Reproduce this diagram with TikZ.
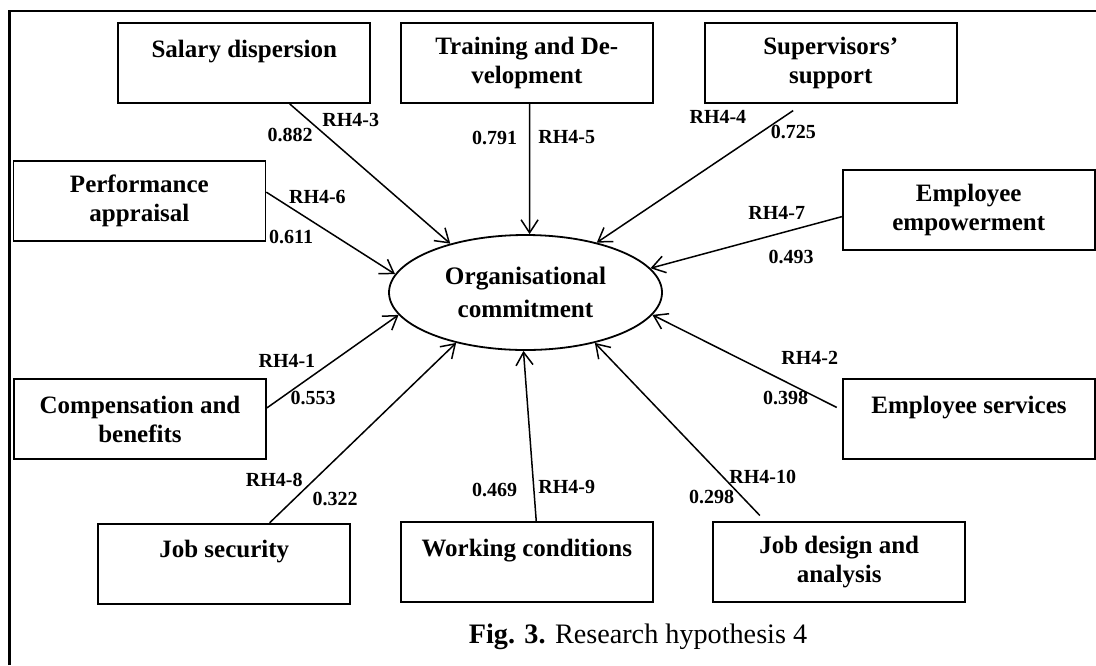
\documentclass[tikz,border=0pt]{standalone}
\usepackage{fontspec}
\setmainfont{Liberation Serif}
\usetikzlibrary{arrows.meta,shapes.geometric}
\tikzstyle{factorBlock}=[draw,line width=0.9pt,minimum width=126pt,minimum height=40pt,inner sep=0pt,align=center,font=\bfseries\fontsize{12.5}{14.5}\selectfont]
\tikzstyle{commitNode}=[draw,ellipse,line width=0.9pt,minimum width=136.5pt,minimum height=57.5pt,inner sep=0pt,align=center,font=\bfseries\fontsize{12.6}{16.5}\selectfont]
\tikzstyle{weightNode}=[inner sep=0pt,font=\bfseries\fontsize{10}{12}\selectfont]
\tikzstyle{hypTransition}=[-{Straight Barb[length=6.5pt,width=8.5pt]},line width=0.75pt]
\tikzstyle{frameLine}=[line width=1.3pt]

\begin{document}
\begin{tikzpicture}[x=5pt,y=-5pt]
    \useasboundingbox (0,0) rectangle (109.6,66.5);
    % Frame
    \draw[frameLine] (0.95,66.5) -- (0.95,1.1) -- (109.6,1.1);

    % Central construct
    \node[commitNode] (commit) at (52.55,29.25) {Organisational\\commitment};

    % Top row
    \node[factorBlock] (salary) at (24.43,6.3) {Salary dispersion\\\mbox{}};
    \node[factorBlock] (training) at (52.68,6.3) {Training and De-\\velopment};
    \node[factorBlock] (supervisors) at (83.07,6.3) {Supervisors’\\support};
    \draw[hypTransition] (salary.-42) -- (commit.147);
    \draw[hypTransition] (training.-86) -- (commit.86);
    \draw[hypTransition, shorten <=6pt] (supervisors.-124) -- (commit.35);
    \node[weightNode] (w3) at (29.02,13.5) {0.882};
    \node[weightNode] (rh3) at (35.08,12.0) {RH4-3};
    \node[weightNode] (w5) at (49.46,13.8) {0.791};
    \node[weightNode] (rh5) at (56.68,13.7) {RH4-5};
    \node[weightNode] (rh4) at (71.79,11.7) {RH4-4};
    \node[weightNode] (w4) at (79.33,13.2) {0.725};

    % Middle rows
    \node[factorBlock] (performance) at (13.94,20.1) {Performance\\appraisal};
    \node[factorBlock] (empowerment) at (96.87,21.0) {Employee\\empowerment};
    \node[factorBlock] (compensation) at (14.0,41.9) {Compensation and\\benefits};
    \node[factorBlock] (services) at (96.9,41.9) {Employee services\\\mbox{}};
    \draw[hypTransition] (performance.4) -- (commit.172);
    \draw[hypTransition] (empowerment.183) -- (commit.11);
    \draw[hypTransition] (compensation.5) -- (commit.190);
    \draw[hypTransition, shorten <=3pt] (services.176) -- (commit.350);
    \node[weightNode] (rh6) at (31.74,19.7) {RH4-6};
    \node[weightNode] (w6) at (29.11,23.7) {0.611};
    \node[weightNode] (rh7) at (77.67,21.3) {RH4-7};
    \node[weightNode] (w7) at (79.1,25.7) {0.493};
    \node[weightNode] (rh1) at (28.69,36.1) {RH4-1};
    \node[weightNode] (w1) at (31.32,39.8) {0.553};
    \node[weightNode] (rh2) at (80.98,35.8) {RH4-2};
    \node[weightNode] (w2) at (78.56,39.8) {0.398};

    % Bottom row
    \node[factorBlock] (jobsec) at (22.42,56.37) {Job security\\\mbox{}};
    \node[factorBlock] (working) at (52.68,56.2) {Working conditions\\\mbox{}};
    \node[factorBlock] (jobdesign) at (83.92,56.22) {Job design and\\analysis};
    \draw[hypTransition] (jobsec.42) -- (commit.216);
    \draw[hypTransition] (working.77) -- (commit.268);
    \draw[hypTransition, shorten <=4pt] (jobdesign.151) -- (commit.324);
    \node[weightNode] (rh8) at (27.43,48.0) {RH4-8};
    \node[weightNode] (w8) at (33.5,49.9) {0.322};
    \node[weightNode] (w9) at (49.46,49.0) {0.469};
    \node[weightNode] (rh9) at (56.68,48.7) {RH4-9};
    \node[weightNode] (rh10) at (76.27,47.7) {RH4-10};
    \node[weightNode] (w10) at (71.17,49.7) {0.298};

    % Caption
    \node[anchor=base,inner sep=0pt,font=\fontsize{14.1}{17}\selectfont] (caption) at (63.8,64.3) {\textbf{Fig. 3.} Research hypothesis 4};
\end{tikzpicture}
\end{document}
